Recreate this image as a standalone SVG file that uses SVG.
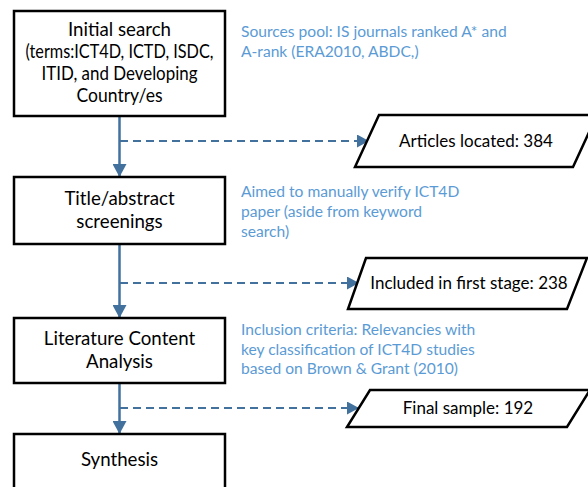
<svg xmlns="http://www.w3.org/2000/svg" width="588" height="487" viewBox="0 0 588 487">
<defs>
<marker id="ah" markerUnits="userSpaceOnUse" markerWidth="14" markerHeight="14" refX="13" refY="7" orient="auto">
<path d="M0,0 L13,7 L0,14 Z" fill="#41719C"/>
</marker>
<marker id="ahs" markerUnits="userSpaceOnUse" markerWidth="13" markerHeight="13" refX="12" refY="6.5" orient="auto">
<path d="M0,0 L12,6.5 L0,13 Z" fill="#41719C"/>
</marker>
<style>
.box{fill:#fff;stroke:#000;stroke-width:2.5}
.t{font-family:Lato,"Liberation Sans",sans-serif;font-size:18.7px;fill:#000;text-anchor:middle}
.ts{font-family:Lato,"Liberation Sans",sans-serif;font-size:17px;fill:#000;text-anchor:middle}
.note{font-family:Lato,"Liberation Sans",sans-serif;font-size:15.6px;fill:#5B9BD5}
.solid{stroke:#41719C;stroke-width:2.5;fill:none}
.dash{stroke:#41719C;stroke-width:1.8;fill:none;stroke-dasharray:8 5}
</style>
</defs>
<rect width="588" height="487" fill="#fff"/>
<g id="connectors">
<line class="solid" x1="119.5" y1="117" x2="119.5" y2="177" marker-end="url(#ah)"/>
<line class="solid" x1="119.5" y1="245" x2="119.5" y2="318" marker-end="url(#ah)"/>
<line class="solid" x1="119.5" y1="384" x2="119.5" y2="434" marker-end="url(#ah)"/>
<line class="dash" x1="120" y1="141" x2="369" y2="141" marker-end="url(#ahs)"/>
<line class="dash" x1="120" y1="283" x2="359" y2="283" marker-end="url(#ahs)"/>
<line class="dash" x1="120" y1="408" x2="359" y2="408" marker-end="url(#ahs)"/>
</g>
<g id="initial-search">
<rect class="box" x="14" y="11" width="211" height="105"/>
<text class="t" x="119.5" y="36">Initial search</text>
<text class="t" x="119.5" y="58" textLength="188" lengthAdjust="spacingAndGlyphs">(terms:ICT4D, ICTD, ISDC,</text>
<text class="t" x="119.5" y="80" textLength="156" lengthAdjust="spacingAndGlyphs">ITID, and Developing</text>
<text class="t" x="119.5" y="102" textLength="86" lengthAdjust="spacingAndGlyphs">Country/es</text>
</g>
<g id="title-abstract">
<rect class="box" x="14" y="177" width="211" height="67"/>
<text class="t" x="119.5" y="205">Title/abstract</text>
<text class="t" x="119.5" y="228">screenings</text>
</g>
<g id="content-analysis">
<rect class="box" x="14" y="318" width="211" height="65"/>
<text class="t" x="119.5" y="345">Literature Content</text>
<text class="t" x="119.5" y="368">Analysis</text>
</g>
<g id="synthesis">
<rect class="box" x="14" y="434" width="211" height="60"/>
<text class="t" x="119.5" y="466">Synthesis</text>
</g>
<g id="note-sources">
<text class="note" x="241" y="37">Sources pool: IS journals ranked A* and</text>
<text class="note" x="241" y="57">A-rank (ERA2010, ABDC,)</text>
</g>
<g id="note-aimed">
<text class="note" x="241" y="197">Aimed to manually verify ICT4D</text>
<text class="note" x="241" y="217">paper (aside from keyword</text>
<text class="note" x="241" y="237">search)</text>
</g>
<g id="note-inclusion">
<text class="note" x="241" y="335">Inclusion criteria: Relevancies with</text>
<text class="note" x="241" y="355">key classification of ICT4D studies</text>
<text class="note" x="241" y="374">based on Brown &amp; Grant (2010)</text>
</g>
<g id="articles-located">
<polygon class="box" points="379,115 597,115 573,167 355,167"/>
<text class="ts" x="476" y="147">Articles located: 384</text>
</g>
<g id="first-stage">
<polygon class="box" points="366,258 587,258 567,309 348,309"/>
<text class="ts" x="469" y="289">Included in first stage: 238</text>
</g>
<g id="final-sample">
<polygon class="box" points="370,390 590,390 567,427 347,427"/>
<text class="ts" x="468" y="414">Final sample: 192</text>
</g>
</svg>
